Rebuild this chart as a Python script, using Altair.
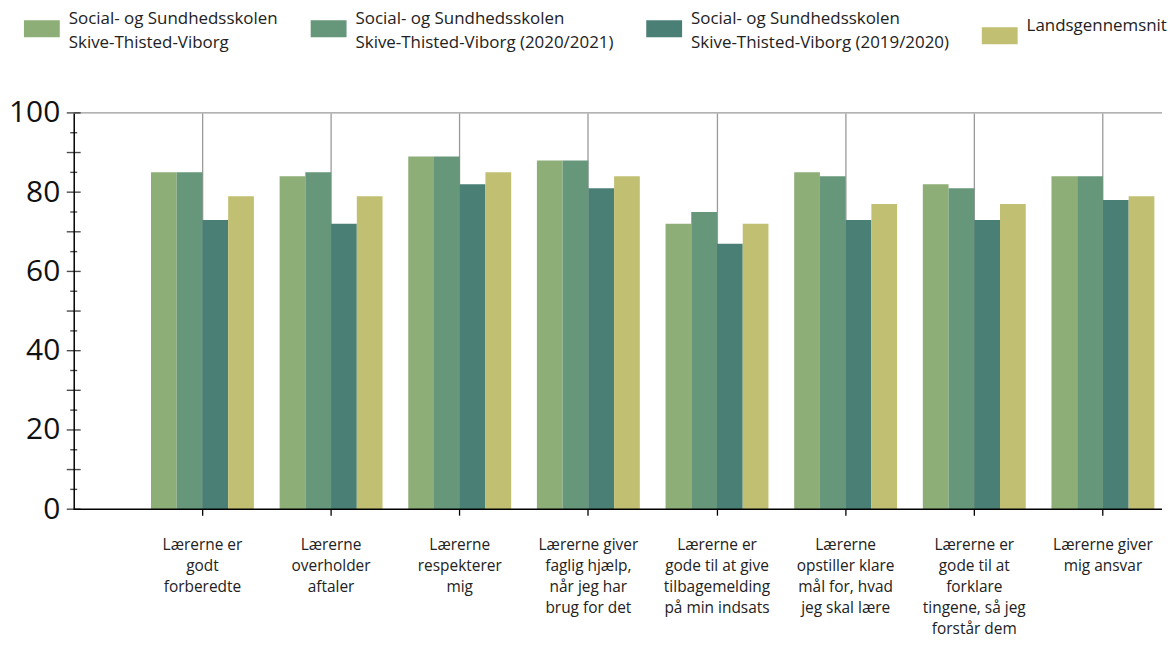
import altair as alt
import pandas as pd

categories = [
    "Lærerne er|godt|forberedte",
    "Lærerne|overholder|aftaler",
    "Lærerne|respekterer|mig",
    "Lærerne giver|faglig hjælp,|når jeg har|brug for det",
    "Lærerne er|gode til at give|tilbagemelding|på min indsats",
    "Lærerne|opstiller klare|mål for, hvad|jeg skal lære",
    "Lærerne er|gode til at|forklare|tingene, så jeg|forstår dem",
    "Lærerne giver|mig ansvar",
]
series = [
    "Social- og Sundhedsskolen|Skive-Thisted-Viborg",
    "Social- og Sundhedsskolen|Skive-Thisted-Viborg (2020/2021)",
    "Social- og Sundhedsskolen|Skive-Thisted-Viborg (2019/2020)",
    "Landsgennemsnit",
]
values_current = [85, 84, 89, 88, 72, 85, 82, 84]
values_2021 = [85, 85, 89, 88, 75, 84, 81, 84]
values_2020 = [73, 72, 82, 81, 67, 73, 73, 78]
values_national = [79, 79, 85, 84, 72, 77, 77, 79]
colors = ["#8DAE76", "#66977A", "#4A7F75", "#C1BF72"]

y_labels = [0, 20, 40, 60, 80, 100]
major_ticks = [0, 10, 20, 30, 40, 50, 60, 70, 80, 90, 100]
minor_ticks = [5, 15, 25, 35, 45, 55, 65, 75, 85, 95]

rows = []
for s, vals in zip(series, [values_current, values_2021, values_2020, values_national]):
    for c, v in zip(categories, vals):
        rows.append({"category": c, "series": s, "value": v})
df = pd.DataFrame(rows)

yscale = alt.Scale(domain=[0, 100], nice=False)
y_axis = alt.Axis(
    title=None,
    values=y_labels,
    labelFont="Open Sans",
    labelFontSize=30,
    labelColor="#111111",
    labelPadding=14,
    ticks=False,
    domain=True,
    domainColor="#000000",
    domainWidth=1.5,
    grid=False,
)

bars = alt.Chart(df).mark_bar().encode(
    x=alt.X(
        "category:N",
        sort=categories,
        scale=alt.Scale(paddingInner=0.2, paddingOuter=0.33, align=0.91),
        axis=alt.Axis(
            title=None,
            labelAngle=0,
            labelExpr="split(datum.label, '|')",
            labelFont="Open Sans",
            labelFontSize=15.5,
            labelLineHeight=21.3,
            labelColor="#222222",
            labelPadding=22,
            labelBaseline="top",
            labelLimit=300,
            ticks=True,
            tickSize=6,
            tickColor="#000000",
            tickWidth=1.3,
            bandPosition=0.5,
            domain=False,
            grid=True,
            gridColor="#9a9a9a",
            gridWidth=1.3,
        ),
    ),
    xOffset=alt.XOffset("series:N", sort=series, scale=alt.Scale(paddingInner=0, paddingOuter=0)),
    y=alt.Y("value:Q", scale=yscale, axis=y_axis),
    color=alt.Color(
        "series:N",
        scale=alt.Scale(domain=series, range=colors),
        legend=alt.Legend(
            title=None,
            orient="none",
            legendX=-50,
            legendY=-103,
            direction="horizontal",
            columns=4,
            columnPadding=32,
            labelExpr="split(datum.label, '|')",
            labelFont="Open Sans",
            labelFontSize=17,
            labelColor="#222222",
            labelBaseline="bottom",
            labelLimit=500,
            labelOffset=9,
            symbolType="M-1,-0.45H1V0.5H-1Z",
            symbolSize=1296,
            symbolStrokeWidth=0,
            symbolOpacity=1,
            padding=0,
        ),
    ),
)

top_rule = alt.Chart(pd.DataFrame({"v": [100]})).mark_rule(color="#9a9a9a", strokeWidth=1.3).encode(
    y=alt.Y("v:Q", scale=yscale, axis=y_axis)
)
bottom_rule = alt.Chart(pd.DataFrame({"v": [0]})).mark_rule(color="#000000", strokeWidth=1.5).encode(
    y=alt.Y("v:Q", scale=yscale, axis=y_axis)
)
major = alt.Chart(pd.DataFrame({"v": major_ticks})).mark_tick(
    orient="horizontal", size=14, thickness=1.4, color="#000000"
).encode(y=alt.Y("v:Q", scale=yscale, axis=y_axis), x=alt.value(0))
minor = alt.Chart(pd.DataFrame({"v": minor_ticks})).mark_tick(
    orient="horizontal", size=7, thickness=1.4, color="#000000"
).encode(y=alt.Y("v:Q", scale=yscale, axis=y_axis), x=alt.value(0))

chart = alt.layer(bars, top_rule, bottom_rule, major, minor).properties(
    width=1093,
    height=398,
    padding={"left": 0, "top": 1, "right": 0, "bottom": 0},
    background="white",
).configure(style={"guide-label": {"lineHeight": 24}}).configure_view(stroke=None)

chart.save("out.html", embed_options={"renderer": "svg", "actions": False})
